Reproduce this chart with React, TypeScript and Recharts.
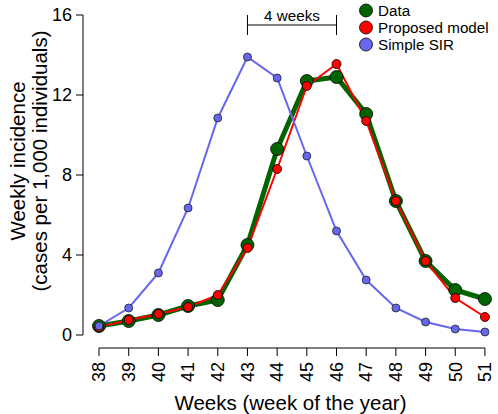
import {
	LineChart,
	Line,
	XAxis,
	YAxis,
	ReferenceLine,
} from 'recharts'

const weeks = [38, 39, 40, 41, 42, 43, 44, 45, 46, 47, 48, 49, 50, 51]
const observed = [0.45, 0.7, 1.0, 1.45, 1.75, 4.5, 9.3, 12.7, 12.9, 11.05, 6.7, 3.7, 2.25, 1.8]
const proposed = [0.4, 0.75, 1.05, 1.4, 2.0, 4.35, 8.3, 12.45, 13.55, 10.7, 6.7, 3.7, 1.85, 0.9]
const simpleSir = [0.45, 1.35, 3.1, 6.35, 10.85, 13.9, 12.85, 8.95, 5.2, 2.75, 1.35, 0.65, 0.3, 0.15]
const yTicks = [0, 4, 8, 12, 16]

const data = weeks.map((week, i) => ({
	week,
	observed: observed[i],
	proposed: proposed[i],
	sir: simpleSir[i],
}))

const FONT = '"Liberation Sans", Arial, sans-serif'

const legendItems = [
	{ label: 'Data', color: '#006400' },
	{ label: 'Proposed model', color: '#ff0000' },
	{ label: 'Simple SIR', color: '#6666ee' },
]

const WeekTick = (props: any) => {
	const { x, y, payload } = props
	return (
		<text
			x={x}
			y={y + 4}
			transform={`rotate(-90, ${x}, ${y + 4})`}
			textAnchor='end'
			dy='0.35em'
			fontSize={18}
			fontFamily={FONT}
			fill='#000'
		>
			{payload.value}
		</text>
	)
}

const YTitle = () => (
	<g fontFamily={FONT} fontSize={20.5} fill='#000'>
		<text x={25} y={161} transform='rotate(-90, 25, 161)' textAnchor='middle'>
			Weekly incidence
		</text>
		<text x={47} y={161} transform='rotate(-90, 47, 161)' textAnchor='middle'>
			(cases per 1,000 individuals)
		</text>
	</g>
)

const LegendBox = () => (
	<svg width={140} height={56} style={{ display: 'block' }}>
		{legendItems.map((item, i) => (
			<g key={item.label}>
				<circle cx={11} cy={10.5 + i * 17} r={6.5} fill={item.color} stroke='#000' strokeWidth={0.8} />
				<text x={23} y={16 + i * 17} fontSize={15.2} fontFamily={FONT} fill='#000'>
					{item.label}
				</text>
			</g>
		))}
	</svg>
)

const App = () => {
	return (
		<div style={{ position: 'absolute', left: 0, top: 0, width: 498, height: 414, background: '#fff' }}>
			<LineChart
				width={498}
				height={414}
				data={data}
				margin={{ top: 2, right: 0, bottom: 0, left: 0 }}
			>
				<XAxis
					dataKey='week'
					type='number'
					domain={[37.46, 51.44]}
					ticks={weeks}
					interval={0}
					allowDataOverflow
					axisLine={false}
					tickSize={8}
					tickLine={{ stroke: '#000', strokeWidth: 1 }}
					tick={<WeekTick />}
					height={66}
					label={{
						value: 'Weeks (week of the year)',
						position: 'insideBottom',
						offset: 4,
						fontSize: 20.5,
						fontFamily: FONT,
						fill: '#000',
					}}
				/>
				<YAxis
					type='number'
					domain={[-0.65, 16.65]}
					ticks={yTicks}
					allowDataOverflow
					width={83}
					axisLine={false}
					tickSize={7}
					tickMargin={4}
					tickLine={{ stroke: '#000', strokeWidth: 1 }}
					tick={{ fontSize: 18, fontFamily: FONT, fill: '#000' }}
					label={{ content: () => <YTitle /> }}
				/>

				{/* axis lines, R style: only from first to last tick */}
				<ReferenceLine
					segment={[{ x: 37.46, y: 0 }, { x: 37.46, y: 16 }]}
					stroke='#000'
					strokeWidth={1}
					ifOverflow='visible'
				/>
				<ReferenceLine
					segment={[{ x: 38, y: -0.65 }, { x: 51, y: -0.65 }]}
					stroke='#000'
					strokeWidth={1}
					ifOverflow='visible'
				/>

				{/* 4 weeks bracket */}
				<ReferenceLine
					segment={[{ x: 43, y: 15.5 }, { x: 46, y: 15.5 }]}
					stroke='#000'
					strokeWidth={1}
					ifOverflow='visible'
					label={{
						value: '4 weeks',
						position: 'top',
						offset: 4,
						fontSize: 15.2,
						fontFamily: FONT,
						fill: '#000',
					}}
				/>
				<ReferenceLine
					segment={[{ x: 43, y: 15 }, { x: 43, y: 16 }]}
					stroke='#000'
					strokeWidth={1}
					ifOverflow='visible'
				/>
				<ReferenceLine
					segment={[{ x: 46, y: 15 }, { x: 46, y: 16 }]}
					stroke='#000'
					strokeWidth={1}
					ifOverflow='visible'
				/>

				<Line
					dataKey='observed'
					stroke='#006400'
					strokeWidth={5}
					dot={{ r: 6.5, fill: '#006400', stroke: '#000', strokeWidth: 0.8 }}
					isAnimationActive={false}
				/>
				<Line
					dataKey='proposed'
					stroke='#ff0000'
					strokeWidth={2}
					dot={{ r: 4.5, fill: '#ff0000', stroke: '#000', strokeWidth: 0.8 }}
					isAnimationActive={false}
				/>
				<Line
					dataKey='sir'
					stroke='#6666ee'
					strokeWidth={2}
					dot={{ r: 4, fill: '#6666ee', stroke: '#222', strokeWidth: 0.8 }}
					isAnimationActive={false}
				/>
			</LineChart>
			<div style={{ position: 'absolute', left: 355, top: 0 }}>
				<LegendBox />
			</div>
		</div>
	)
}

export default App
